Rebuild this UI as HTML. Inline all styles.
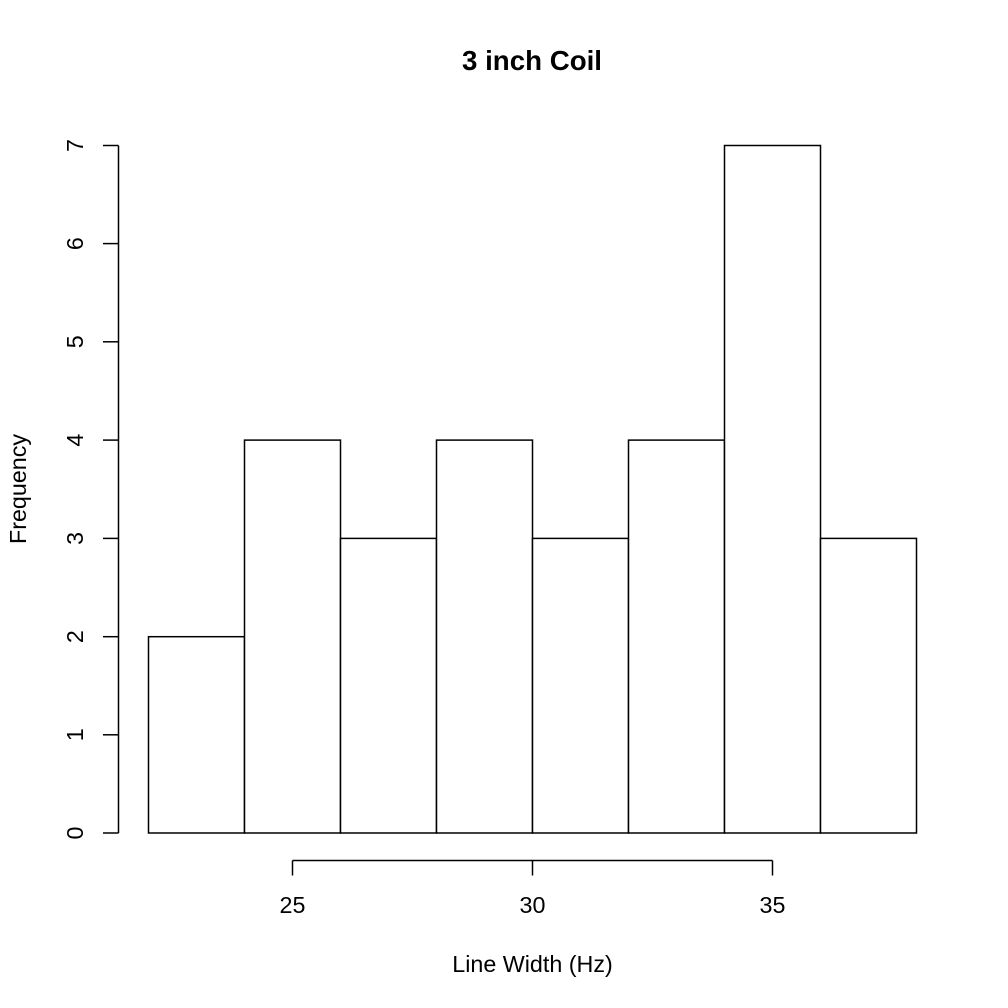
<!DOCTYPE html>
<html><head><meta charset="utf-8"><style>
html,body{margin:0;padding:0;background:#fff;}
svg{display:block;}
text{font-family:"Liberation Sans",sans-serif;fill:#000;}
</style></head><body>
<svg width="1008" height="1008" viewBox="0 0 1008 1008" xmlns="http://www.w3.org/2000/svg">
<rect width="1008" height="1008" fill="#fff"/>
<g fill="#fff" stroke="#000" stroke-width="1.5">
<rect x="148.5" y="636.7" width="96" height="196.3"/>
<rect x="244.5" y="440.1" width="96" height="392.9"/>
<rect x="340.5" y="538.4" width="96" height="294.6"/>
<rect x="436.5" y="440.1" width="96" height="392.9"/>
<rect x="532.5" y="538.4" width="96" height="294.6"/>
<rect x="628.5" y="440.1" width="96" height="392.9"/>
<rect x="724.5" y="145.5" width="96" height="687.5"/>
<rect x="820.5" y="538.4" width="96" height="294.6"/>
</g>
<g stroke="#000" stroke-width="1.5" fill="none">
<line x1="118.5" y1="145.5" x2="118.5" y2="833"/>
<line x1="103" y1="833" x2="118.5" y2="833"/>
<line x1="103" y1="734.8" x2="118.5" y2="734.8"/>
<line x1="103" y1="636.7" x2="118.5" y2="636.7"/>
<line x1="103" y1="538.4" x2="118.5" y2="538.4"/>
<line x1="103" y1="440.1" x2="118.5" y2="440.1"/>
<line x1="103" y1="341.8" x2="118.5" y2="341.8"/>
<line x1="103" y1="243.6" x2="118.5" y2="243.6"/>
<line x1="103" y1="145.5" x2="118.5" y2="145.5"/>
<line x1="292.5" y1="860.5" x2="772.5" y2="860.5"/>
<line x1="292.5" y1="860.5" x2="292.5" y2="875.5"/>
<line x1="532.5" y1="860.5" x2="532.5" y2="875.5"/>
<line x1="772.5" y1="860.5" x2="772.5" y2="875.5"/>
</g>
<g font-size="23.3" text-anchor="middle">
<text x="292.5" y="913">25</text>
<text x="532.5" y="913">30</text>
<text x="772.5" y="913">35</text>
<text transform="translate(83,833) rotate(-90)">0</text>
<text transform="translate(83,734.8) rotate(-90)">1</text>
<text transform="translate(83,636.7) rotate(-90)">2</text>
<text transform="translate(83,538.4) rotate(-90)">3</text>
<text transform="translate(83,440.1) rotate(-90)">4</text>
<text transform="translate(83,341.8) rotate(-90)">5</text>
<text transform="translate(83,243.6) rotate(-90)">6</text>
<text transform="translate(83,145.5) rotate(-90)">7</text>
<text x="532.5" y="972">Line Width (Hz)</text>
<text transform="translate(26,489) rotate(-90)">Frequency</text>
</g>
<text x="532" y="70" font-size="27.7" font-weight="bold" text-anchor="middle">3 inch Coil</text>
</svg>
</body></html>
